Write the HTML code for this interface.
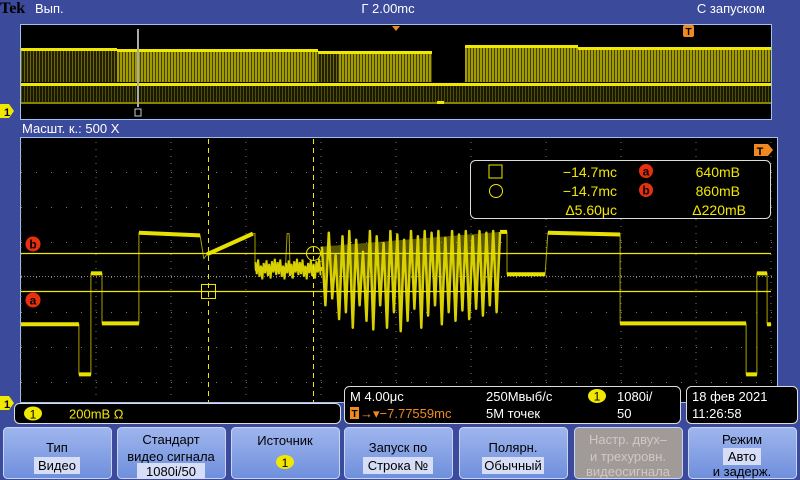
<!DOCTYPE html>
<html><head><meta charset="utf-8"><style>
body{margin:0;width:800px;height:480px;background:#3b4a9b;overflow:hidden;font-family:"Liberation Sans","DejaVu Sans",sans-serif}
svg{display:block}
text{font-family:"Liberation Sans Narrow","Liberation Sans","DejaVu Sans",sans-serif}
</style></head><body>
<svg id="scope" width="800" height="480" viewBox="0 0 800 480">
<defs>
<pattern id="stripes" width="3" height="10" patternUnits="userSpaceOnUse"><rect width="2" height="10" fill="#d8d000"/><rect x="2" width="1" height="10" fill="#5a5600"/></pattern>
<pattern id="stripesDim" width="3" height="10" patternUnits="userSpaceOnUse"><rect width="1" height="10" fill="#8a8400"/><rect x="1" width="2" height="10" fill="#2a2800"/></pattern>
<linearGradient id="btn" x1="0" y1="0" x2="0" y2="1"><stop offset="0" stop-color="#9fb6ee"/><stop offset="1" stop-color="#6f8fdc"/></linearGradient>
</defs>
<text x="0" y="13" font-size="16" font-weight="bold" fill="#000" style="font-family:'Liberation Serif',serif">Tek</text>
<text x="35" y="13" font-size="13" fill="#fff">Вып.</text>
<text x="388" y="13" font-size="13" fill="#fff" text-anchor="middle">Г 2.00mс</text>
<text x="765" y="13" font-size="13" fill="#fff" text-anchor="end">С запуском</text>
<g>
<rect x="20.5" y="24.5" width="751" height="95" fill="#000" stroke="#9cc0f0"/>
<polygon points="392,26 400,26 396,31" fill="#f08a20"/>
<rect x="683" y="25" width="11" height="12" rx="2" fill="#f08a20"/>
<text x="688.5" y="35" font-size="10" font-weight="bold" fill="#000" text-anchor="middle">T</text>
<g id="ovsig"></g>
<line x1="138" y1="29" x2="138" y2="107" stroke="#aaa" stroke-width="2"/>
<rect x="135" y="109" width="6" height="7" fill="none" stroke="#ccc" stroke-width="1"/>
</g>
<text x="22" y="133" font-size="13" fill="#fff">Масшт. к.: 500 X</text>
<rect x="20.5" y="137.5" width="757" height="265" fill="#000" stroke="#9cc0f0"/>
<g id="grid"></g>
<g id="trace"></g>
<g id="cursors"></g>
<path d="M0,104 h9 l5,7 l-5,7 h-9z" fill="#f0e800"/>
<text x="4" y="116" font-size="11" font-weight="bold" fill="#000">1</text>
<path d="M0,396 h9 l5,7 l-5,7 h-9z" fill="#f0e800"/>
<text x="4" y="408" font-size="11" font-weight="bold" fill="#000">1</text>
<path d="M754,144 h14 l5,6 l-5,6 h-14z" fill="#f08a20"/>
<text x="760" y="155" font-size="11" font-weight="bold" fill="#000" text-anchor="middle">T</text>
<circle cx="33" cy="244" r="7.5" fill="#e83010"/><text x="33" y="248.5" font-size="12" font-weight="bold" fill="#000" text-anchor="middle">b</text>
<circle cx="33" cy="300" r="7.5" fill="#e83010"/><text x="33" y="304.5" font-size="12" font-weight="bold" fill="#000" text-anchor="middle">a</text>
<g font-size="14" fill="#f0e800">
<rect x="470.5" y="160.5" width="300" height="58" rx="5" fill="#000" stroke="#ddd"/>
<rect x="489" y="165" width="13" height="13" fill="none" stroke="#f0e800"/>
<circle cx="496" cy="191" r="6.5" fill="none" stroke="#f0e800"/>
<text x="617" y="177" text-anchor="end">−14.7mс</text>
<text x="617" y="196" text-anchor="end">−14.7mс</text>
<text x="617" y="215" text-anchor="end">Δ5.60μс</text>
<circle cx="646" cy="171" r="7" fill="#e83010"/><text x="646" y="175.5" font-size="12" font-weight="bold" fill="#000" text-anchor="middle">a</text>
<circle cx="646" cy="190" r="7" fill="#e83010"/><text x="646" y="194.5" font-size="12" font-weight="bold" fill="#000" text-anchor="middle">b</text>
<text x="740" y="177" text-anchor="end">640mB</text>
<text x="740" y="196" text-anchor="end">860mB</text>
<text x="746" y="215" text-anchor="end">Δ220mB</text>
</g>
<g>
<rect x="14.5" y="403.5" width="326" height="20" rx="5" fill="#000" stroke="#ddd"/>
<ellipse cx="33" cy="413.5" rx="9" ry="7" fill="#f0e800"/><text x="33" y="418.5" font-size="12" fill="#000" text-anchor="middle">1</text>
<text x="69" y="418.5" font-size="13" fill="#f0e800">200mB Ω</text>
</g>
<g font-size="13">
<rect x="344.5" y="386.5" width="336" height="37" rx="5" fill="#000" stroke="#ddd"/>
<text x="350" y="401" fill="#fff">M 4.00μс</text>
<text x="486" y="401" fill="#fff">250Mвыб/с</text>
<ellipse cx="597" cy="396" rx="9" ry="7" fill="#f0e800"/><text x="597" y="400.5" font-size="12" fill="#000" text-anchor="middle">1</text>
<text x="617" y="401" fill="#fff">1080i/</text>
<text x="617" y="418" fill="#fff">50</text>
<rect x="350" y="407" width="9" height="12" fill="#f08a20"/><text x="354.5" y="417" font-size="10" font-weight="bold" fill="#000" text-anchor="middle">T</text>
<text x="360" y="418" fill="#f08a20">→▾−7.77559mс</text>
<text x="486" y="418" fill="#fff">5M точек</text>
</g>
<g font-size="13" fill="#fff">
<rect x="686.5" y="386.5" width="111" height="37" rx="5" fill="#000" stroke="#ddd"/>
<text x="692" y="401">18 фев 2021</text>
<text x="692" y="418">11:26:58</text>
</g>
<g id="buttons"></g>
</svg>
<script>
const NS="http://www.w3.org/2000/svg";
function mk(tag,attrs,parent){const e=document.createElementNS(NS,tag);for(const k in attrs)e.setAttribute(k,attrs[k]);parent.appendChild(e);return e;}
// ---- data ----
const traceT=[0,3.09,3.09,3.73,3.73,4.32,4.32,6.29,6.29,9.55,9.75,9.92,12.37,12.48,12.48,14.10,14.19,14.30,14.35,16.05];
const traceV=[450,450,160,160,745,745,455,455,980,965,830,855,975,975,770,770,975,975,770,770];
const tail2T=[25.55,25.92,25.92,27.95,28.1,31.95,31.95,38.67,38.67,39.25,39.25,39.79,39.79,40];
const tail2V=[985,985,740,740,980,970,455,455,160,160,745,745,450,450];
const burstHi=[900,980,850,960,990,940,870,990,960,920,990,970,940,990,960,990,980,990,950,990,970,990,960,990,980,990];
const burstLo=[560,600,480,520,430,560,470,420,560,430,520,410,470,540,430,500,560,450,520,470,530,480,540,500,560,520];
const grayNoise=[40,-30,55,-45,20,-60,35,-25,50,-40,30,-55,45,-20,60,-35];
const burstStart=16.05,burstEnd=25.55;
const cursorT=[10.0,15.6];
const cursorV=[640,860];
// ---- axes ----
const X0=21,PXUS=18.75,Y0=402,PXMV=0.1727;
const xs=t=>X0+t*PXUS, ys=v=>Y0-v*PXMV;
const grid=document.getElementById('grid');
for(let c=0;c<=10;c++){for(let y=142;y<400;y+=7){mk('rect',{x:X0+c*75-0.5,y:y,width:1,height:1,fill:'#777'},grid);}}
for(let r=-4;r<=4;r++){const y=277+r*35;if(y<139||y>400)continue;for(let x=X0;x<772;x+=15){mk('rect',{x:x,y:y,width:1,height:1,fill:'#777'},grid);}}
for(let x=X0;x<772;x+=3){mk('rect',{x:x,y:276,width:1,height:1,fill:'#888'},grid);}
const tr=document.getElementById('trace');
function poly(T,V,w,col){const pts=T.map((t,i)=>xs(t).toFixed(1)+','+ys(V[i]).toFixed(1)).join(' ');return mk('polyline',{points:pts,fill:'none',stroke:col,'stroke-width':w,'stroke-linejoin':'round'},tr);}
poly(traceT,traceV,1,'#a8a000');
poly(tail2T,tail2V,1,'#a8a000');
function plateaus(T,V){for(let i=0;i<T.length-1;i++){if(T[i+1]-T[i]>0.2){mk('line',{x1:xs(T[i]),y1:ys(V[i]),x2:xs(T[i+1]),y2:ys(V[i+1]),stroke:'#e8e000','stroke-width':4},tr);}}}
plateaus(traceT,traceV);plateaus(tail2T,tail2V);
{const t0=12.5,t1=16.05;let pts=[];const N=grayNoise.length*3;for(let i=0;i<N;i++){const t=t0+(t1-t0)*i/N;pts.push(xs(t).toFixed(1)+','+ys(770+grayNoise[i%grayNoise.length]).toFixed(1));}
const n=mk('polyline',{points:pts.join(' '),fill:'none',stroke:'#d8d000','stroke-width':2},tr);

}
{const n=burstHi.length,dt=(burstEnd-burstStart)/n;let pts=[];
for(let i=0;i<n;i++){const t=burstStart+i*dt;pts.push(xs(t).toFixed(1)+','+ys(burstHi[i]).toFixed(1));pts.push(xs(t+dt*0.5).toFixed(1)+','+ys(burstLo[i]).toFixed(1));}
pts.push(xs(burstEnd).toFixed(1)+','+ys(985).toFixed(1));
const b=mk('polyline',{points:pts.join(' '),fill:'rgba(200,190,0,0.45)',stroke:'#d8d000','stroke-width':2.5,'stroke-linejoin':'round'},tr);

}
const cg=document.getElementById('cursors');
cursorT.forEach((t,i)=>{const l=mk('line',{x1:xs(t),y1:139,x2:xs(t),y2:402,stroke:'#f0e800','stroke-width':1,'stroke-dasharray':'5,4'},cg);

});
cursorV.forEach((v,i)=>{const l=mk('line',{x1:21,y1:ys(v),x2:771,y2:ys(v),stroke:'#f0e800','stroke-width':1.2},cg);

});
mk('rect',{x:xs(cursorT[0])-7,y:ys(cursorV[0])-7,width:14,height:14,fill:'none',stroke:'#f0e800'},cg);
mk('circle',{cx:xs(cursorT[1]),cy:ys(cursorV[1]),r:7,fill:'none',stroke:'#f0e800'},cg);
const ov=document.getElementById('ovsig');
const ovSegStart=[21,117,318,338,408,465,578];
const ovSegEnd=[117,318,338,408,432,578,771];
const ovSegTop=[49,50,52,52,52,46,48];
const ovSegBright=[0,1,0,1,1,1,1];
ovSegStart.forEach((s,i)=>{const top=ovSegTop[i];
mk('rect',{x:s,y:top,width:ovSegEnd[i]-s,height:82-top,fill:ovSegBright[i]?'url(#stripes)':'url(#stripesDim)',opacity:ovSegBright[i]?0.75:0.8},ov);
mk('rect',{x:s,y:top-1,width:ovSegEnd[i]-s,height:3,fill:'#f0e800'},ov);});
mk('rect',{x:21,y:83,width:750,height:3,fill:'#f0e800'},ov);
mk('rect',{x:21,y:86,width:750,height:16,fill:'url(#stripesDim)',opacity:0.6},ov);
mk('rect',{x:21,y:102,width:750,height:2,fill:'#8a8400'},ov);
mk('rect',{x:437,y:101,width:7,height:3,fill:'#f0e800'},ov);
const btnX=[3,117,231,344,459,574,688];
const btnL1=['Тип','Стандарт','Источник','Запуск по','Полярн.','Настр. двух–','Режим'];
const btnL2=['Видео','видео сигнала','','Строка №','Обычный','и трехуровн.','Авто'];
const btnL3=['','1080i/50','','','','видеосигнала','и задерж.'];
const bg=document.getElementById('buttons');
btnX.forEach((x,i)=>{const g=mk('g',{},bg);


const dis=i==5;
mk('rect',{x:x+0.5,y:427.5,width:108,height:51,rx:4,fill:dis?'#a09a98':'url(#btn)',stroke:'#c8d4f4'},g);
const cx=x+54,col=dis?'#d0c8c4':'#000';
const three=btnL3[i]!=='';
const y1=three?444:(i==2?445:452),y2=three?461:470,y3=476;
mk('text',{x:cx,y:y1,'font-size':13,fill:col,'text-anchor':'middle'},g).textContent=btnL1[i];
if(btnL2[i]){if(!dis&&i!=1){mk('rect',{x:cx-btnL2[i].length*4-3,y:y2-13,width:btnL2[i].length*8+6,height:17,fill:'#d6ddf6'},g);}
mk('text',{x:cx,y:y2,'font-size':13,fill:col,'text-anchor':'middle'},g).textContent=btnL2[i];}
if(i==2){mk('ellipse',{cx:cx,cy:462,rx:9,ry:7,fill:'#f0e800'},g);mk('text',{x:cx,y:467,'font-size':12,fill:'#000','text-anchor':'middle'},g).textContent='1';}
if(three){if(i==1){mk('rect',{x:cx-34,y:y3-13,width:68,height:16,fill:'#d6ddf6'},g);}
mk('text',{x:cx,y:y3,'font-size':13,fill:col,'text-anchor':'middle'},g).textContent=btnL3[i];}
});
</script>
</body></html>
